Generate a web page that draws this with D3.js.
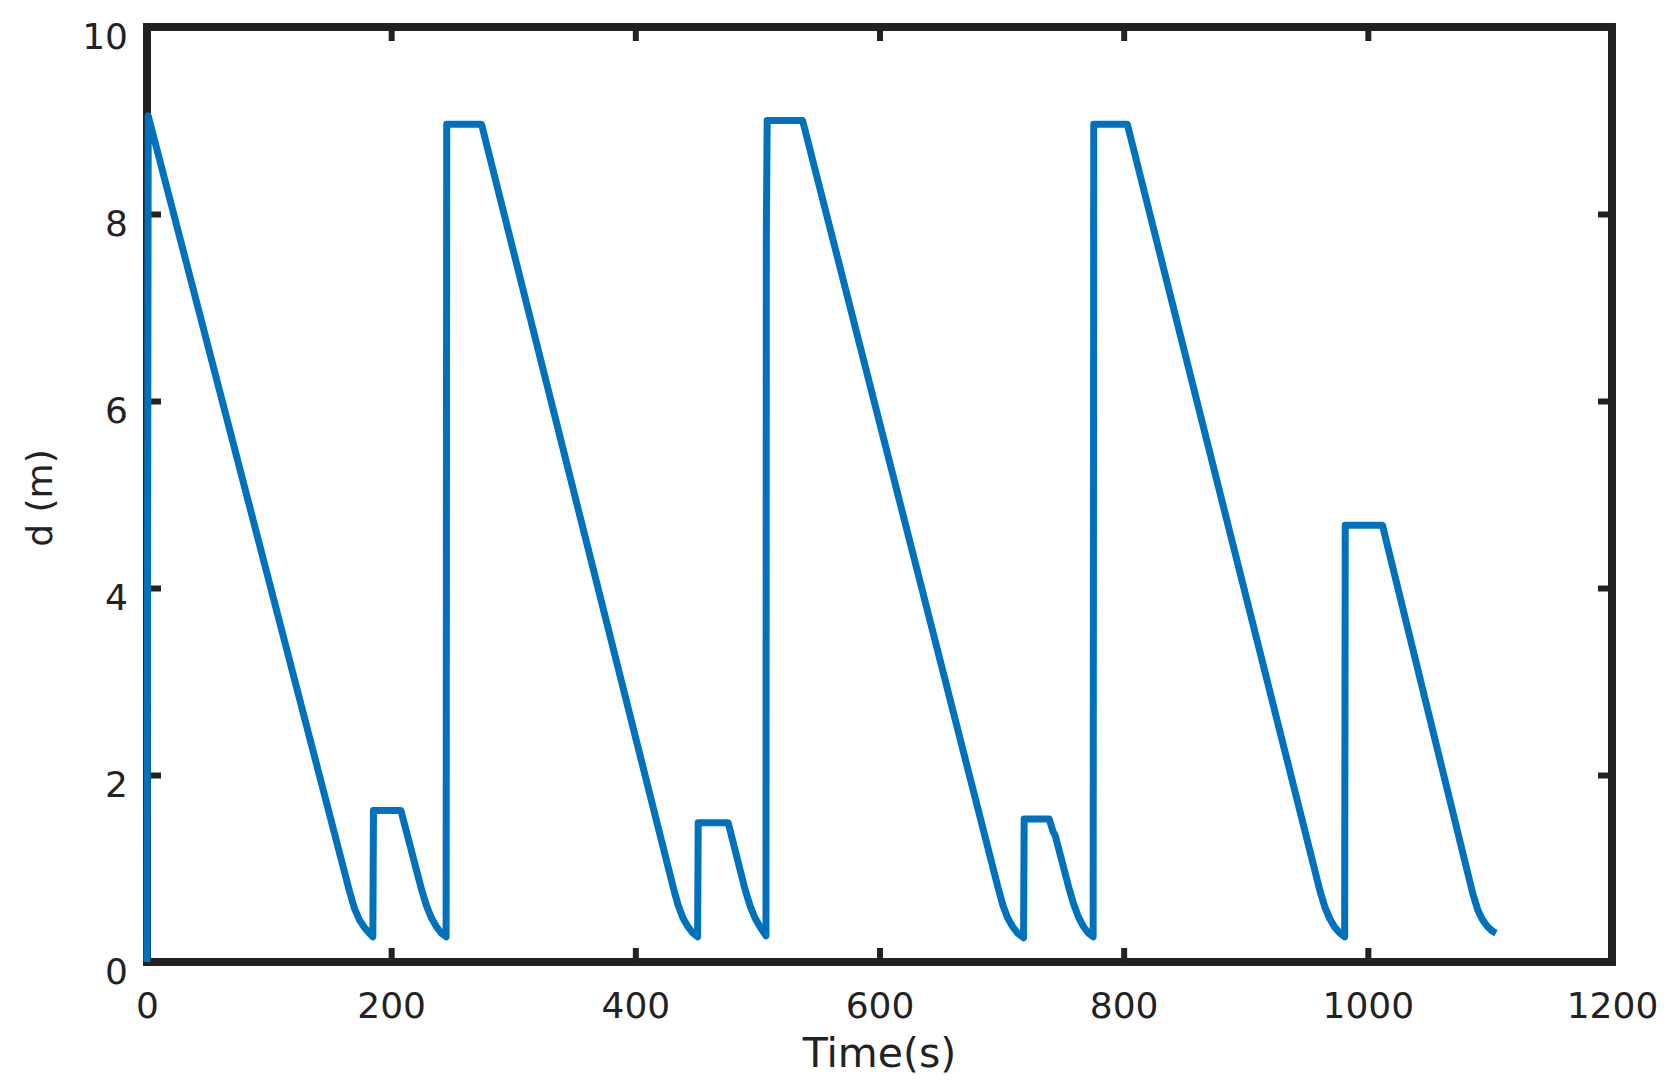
<!DOCTYPE html>
<html>
<head>
<meta charset="utf-8">
<script src="https://cdn.jsdelivr.net/npm/d3@7"></script>
<style>
  html, body { margin: 0; padding: 0; background: #fff; }
  svg { display: block; }
</style>
</head>
<body>
<div id="chart"></div>
<script>
// data: time (s) and distance d (m)
const timeS = [0, 1,
  166, 170, 174, 178, 182, 185,
  185.5, 208, 225, 229, 233, 237, 241, 245,
  245.5, 274, 431, 435, 439, 443, 447, 451,
  451.5, 476, 490, 494, 498, 502, 505, 507,
  507.3, 508, 537, 697, 701, 705, 709, 713, 718,
  718.5, 739, 742, 744, 755, 759, 763, 767, 771, 775,
  775.5, 803, 961, 965, 969, 973, 977, 981,
  981.5, 1012, 1086, 1090, 1094, 1098, 1102, 1105];
const distM = [0, 9.05,
  0.75, 0.57, 0.45, 0.37, 0.31, 0.27,
  1.62, 1.62, 0.77, 0.6, 0.47, 0.38, 0.31, 0.27,
  8.96, 8.96, 0.8, 0.61, 0.47, 0.38, 0.31, 0.27,
  1.49, 1.49, 0.77, 0.6, 0.47, 0.38, 0.32, 0.28,
  7.8, 9.0, 9.0, 0.8, 0.61, 0.47, 0.38, 0.31, 0.26,
  1.53, 1.53, 1.4, 1.35, 0.8, 0.62, 0.48, 0.38, 0.31, 0.27,
  8.96, 8.96, 0.75, 0.58, 0.46, 0.37, 0.31, 0.27,
  4.67, 4.67, 0.73, 0.56, 0.45, 0.38, 0.33, 0.31];
const xTicks = [0, 200, 400, 600, 800, 1000, 1200];
const yTicks = [0, 2, 4, 6, 8, 10];

(() => {
  const W = 1676, H = 1090;
  const margin = { top: 27, right: 64, bottom: 128, left: 147 };
  const width = W - margin.left - margin.right,
    height = H - margin.top - margin.bottom;
  const font = "DejaVu Sans, Liberation Sans, sans-serif";
  const ink = "#222";

  const svg = d3.select("#chart")
    .append("svg")
    .attr("width", W)
    .attr("height", H);

  const g = svg.append("g")
    .attr("transform", `translate(${margin.left},${margin.top})`);

  const xScale = d3.scaleLinear().domain([0, 1200]).range([0, width]);
  const yScale = d3.scaleLinear().domain([0, 10]).range([height, 0]);

  // frame
  g.append("rect")
    .attr("width", width)
    .attr("height", height)
    .attr("fill", "none")
    .attr("stroke", ink)
    .attr("stroke-width", 8);

  const styleAxis = (sel) => {
    sel.select(".domain").remove();
    sel.selectAll(".tick line").attr("stroke", ink).attr("stroke-width", 6);
    sel.selectAll(".tick text")
      .attr("fill", ink)
      .attr("font-family", font)
      .attr("font-size", 36);
  };

  g.append("g")
    .attr("transform", `translate(0,${height})`)
    .call(d3.axisBottom(xScale).tickValues(xTicks).tickFormat(d3.format("d"))
      .tickSize(-14).tickPadding(30))
    .call(styleAxis);

  g.append("g")
    .call(d3.axisTop(xScale).tickValues(xTicks).tickSize(-14).tickFormat(""))
    .call(styleAxis);

  g.append("g")
    .call(d3.axisLeft(yScale).tickValues(yTicks).tickFormat(d3.format("d"))
      .tickSize(-14).tickPadding(19))
    .call(styleAxis)
    .selectAll(".tick text").attr("dy", "0.6em");

  g.append("g")
    .attr("transform", `translate(${width},0)`)
    .call(d3.axisRight(yScale).tickValues(yTicks).tickSize(-14).tickFormat(""))
    .call(styleAxis);

  // series
  const data = timeS.map((t, i) => ({ t: t, d: distM[i] }));
  const line = d3.line()
    .x((p) => xScale(p.t))
    .y((p) => yScale(p.d));

  g.append("path")
    .datum(data)
    .attr("fill", "none")
    .attr("stroke", "#0072BD")
    .attr("stroke-width", 7)
    .attr("stroke-linejoin", "round")
    .attr("d", line);

  // axis titles
  svg.append("text")
    .attr("x", margin.left + width / 2)
    .attr("y", 1067)
    .attr("text-anchor", "middle")
    .attr("font-family", font)
    .attr("font-size", 41)
    .attr("fill", ink)
    .text("Time(s)");

  svg.append("text")
    .attr("transform", "translate(52,498) rotate(-90)")
    .attr("text-anchor", "middle")
    .attr("font-family", font)
    .attr("font-size", 36)
    .attr("fill", ink)
    .text("d (m)");
})();
</script>
</body>
</html>
